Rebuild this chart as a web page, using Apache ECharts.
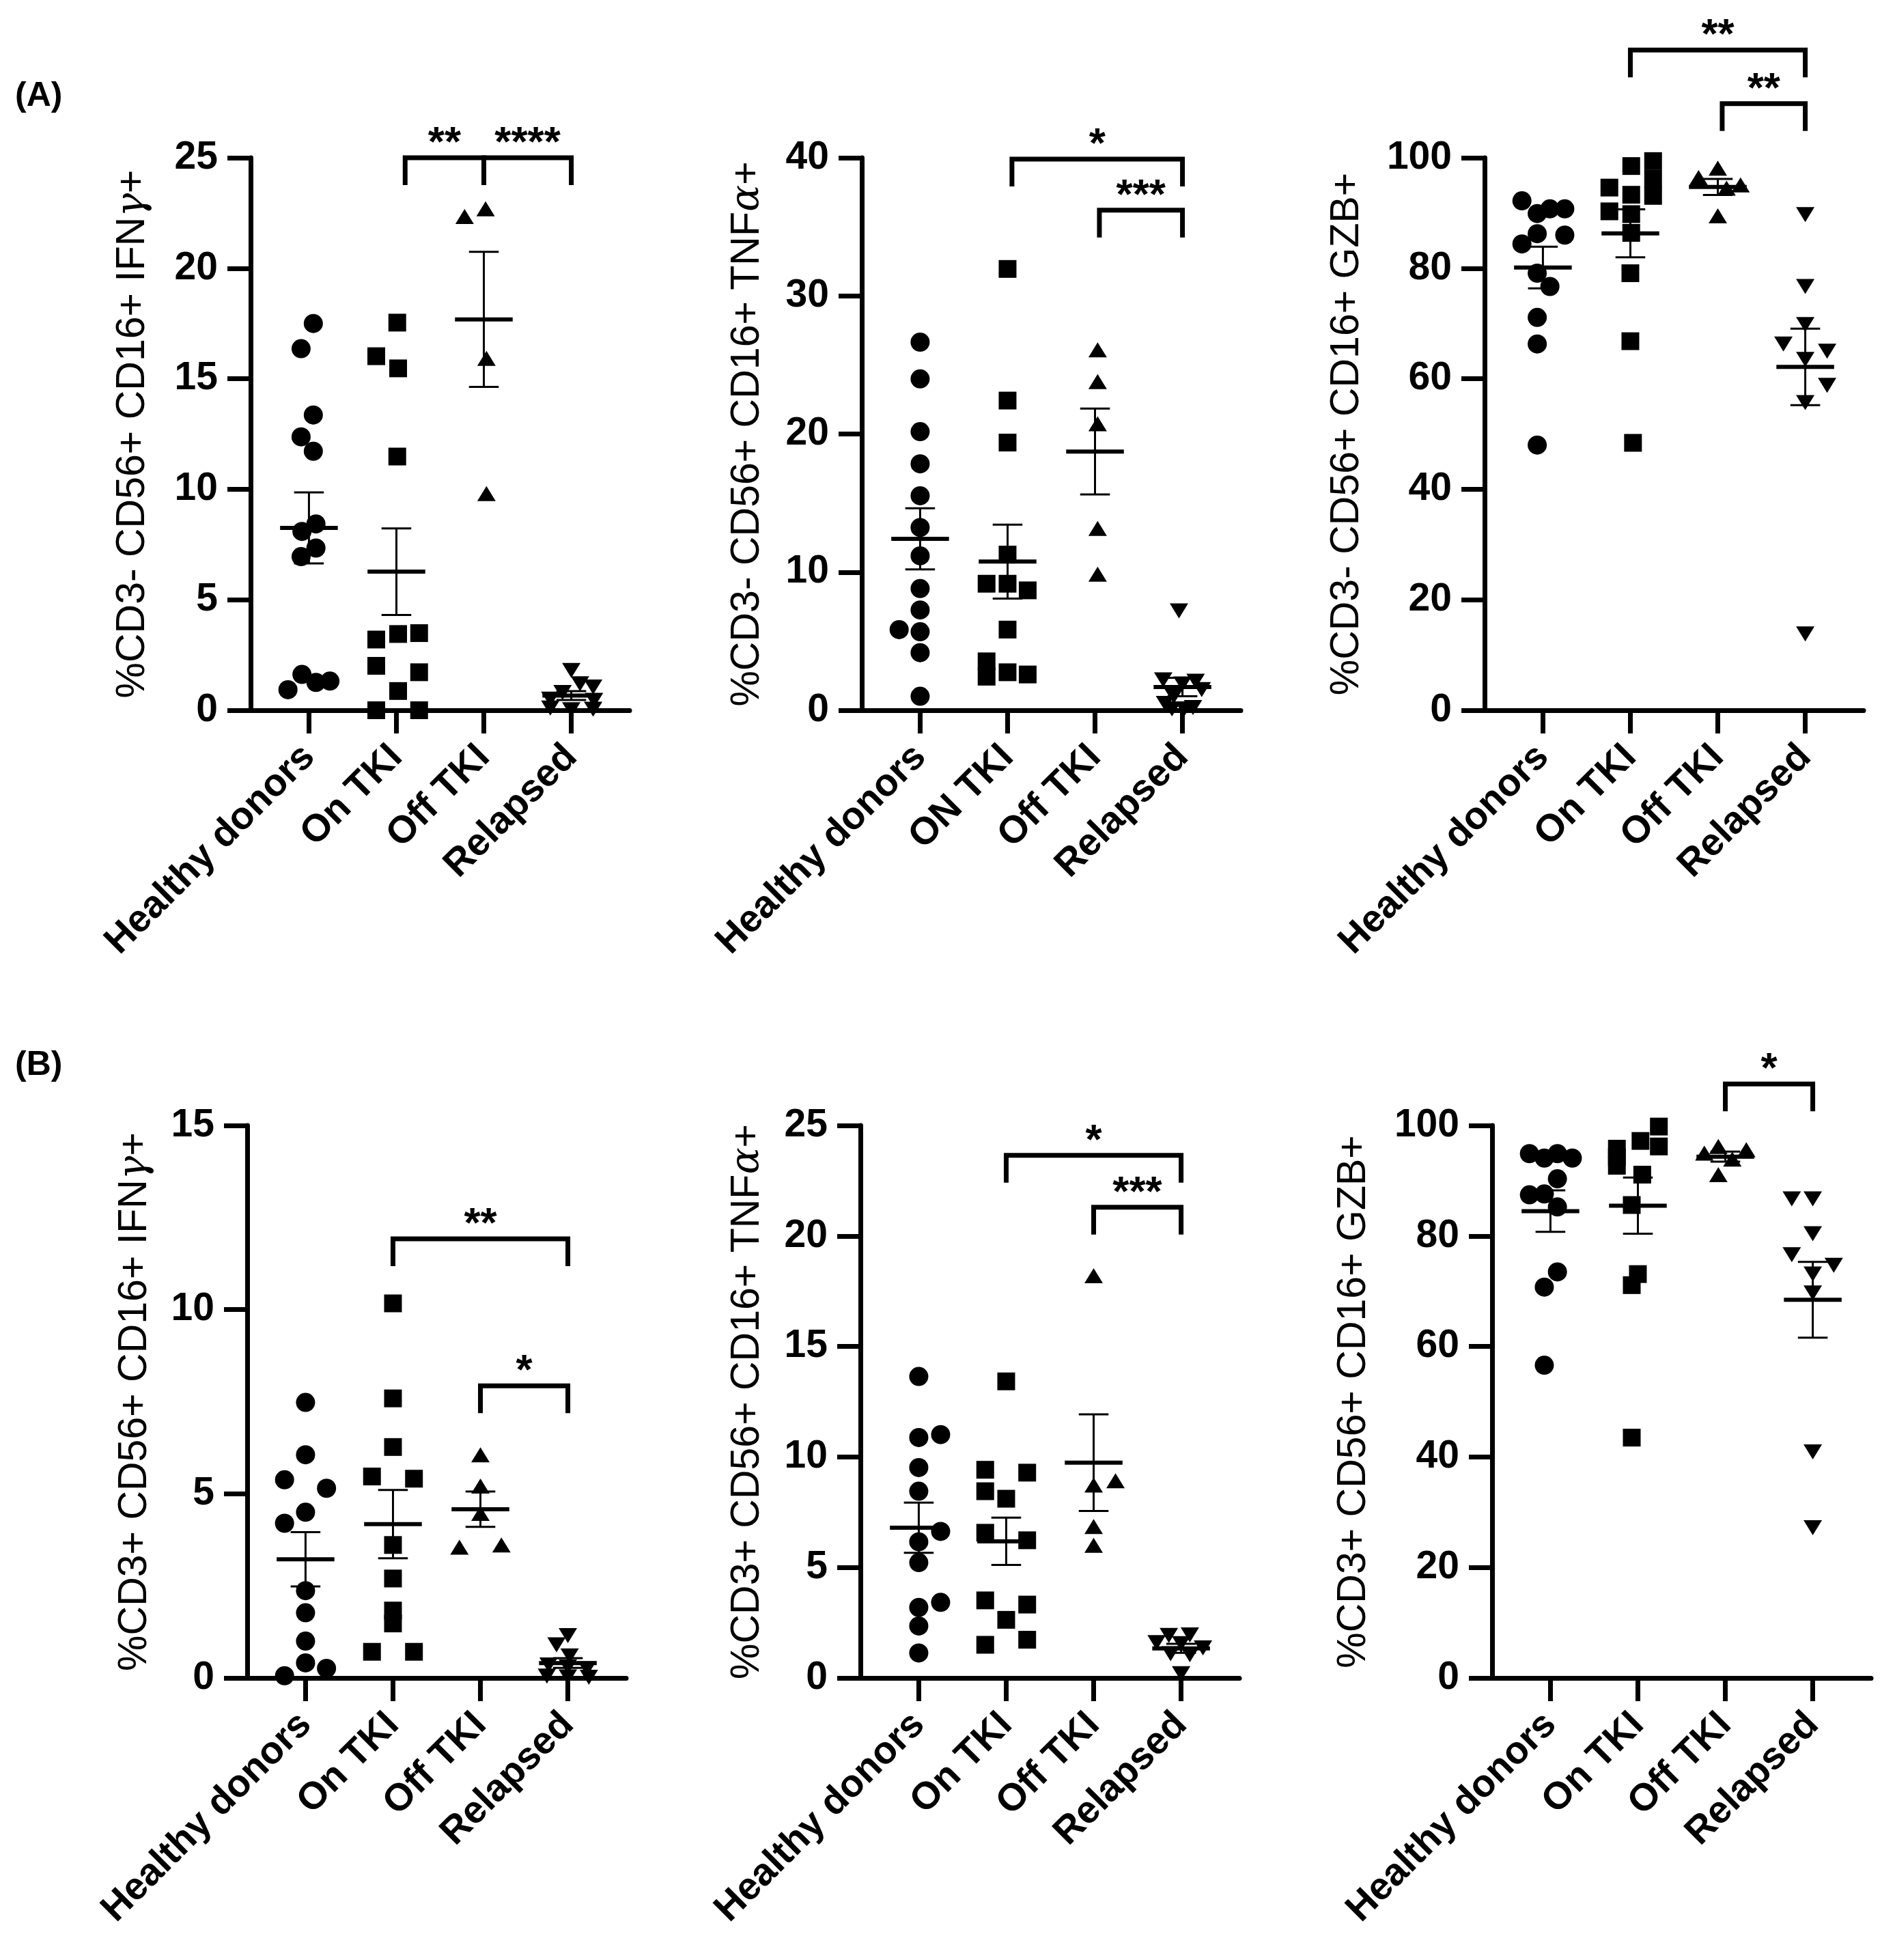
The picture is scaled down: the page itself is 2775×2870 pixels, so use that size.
<!DOCTYPE html>
<html>
<head>
<meta charset="utf-8">
<title>NK cell subsets</title>
<script src="https://cdn.jsdelivr.net/npm/echarts@6/dist/echarts.min.js"></script>
<style>
html, body { margin: 0; padding: 0; background: #fff; }
#chart { width: 2775px; height: 2870px; }
</style>
</head>
<body>
<div id="chart"></div>
<script>
var groups = ['Healthy donors', 'On TKI', 'Off TKI', 'Relapsed'];
var groupsON = ['Healthy donors', 'ON TKI', 'Off TKI', 'Relapsed'];

// (A) CD3- CD56+ CD16+ IFNg+
var a1Values = [
  [17.5, 16.36, 13.36, 12.37, 11.72, 8.43, 8.09, 7.34, 6.95, 0.93, 1.62, 1.26, 1.32],
  [17.54, 16.02, 15.47, 11.48, 3.2, 3.45, 3.49, 2.01, 1.72, 0.87, 0, 0],
  [22.34, 22.69, 15.92, 9.8],
  [1.8, 1.2, 1.05, 0.8, 0.5, 0.45, 0.1, 0.05, 0.02]
];
var a1Jitter = [
  [0.05, -0.09, 0.05, -0.09, 0.05, 0.08, -0.08, 0.08, -0.09, -0.24, -0.08, 0.08, 0.24],
  [0.01, -0.23, 0.02, 0.01, -0.23, 0.02, 0.26, -0.23, 0.26, 0.02, -0.23, 0.26],
  [-0.22, 0.02, 0.03, 0.03],
  [0, 0.1, 0.25, -0.1, -0.24, 0.26, -0.24, 0.25, 0]
];
var a1Brackets = [[2.1, 3, 25, '**'], [3, 4, 25, '****']];

// (A) CD3- CD56+ CD16+ TNFa+
var a2Values = [
  [26.65, 23.99, 20.17, 17.84, 15.53, 13.23, 11.18, 8.81, 7.26, 5.84, 5.68, 4.17, 1.01],
  [31.95, 22.42, 19.38, 11.27, 9.16, 9.16, 8.68, 5.84, 3.54, 2.43, 2.75, 2.59],
  [26.1, 23.8, 20.74, 13.17, 9.85],
  [7.2, 2.2, 2.1, 1.9, 1.5, 1.0, 0.5, 0.2, 0.1, 0.1]
];
var a2Jitter = [
  [0, 0, 0, 0, 0, 0, 0, 0, 0, -0.24, 0, 0, 0],
  [0, 0, 0, 0, -0.24, 0, 0.23, 0, -0.24, -0.24, 0, 0.23],
  [0.03, 0.03, 0.03, 0.03, 0.03],
  [-0.04, -0.22, 0.15, 0, 0.22, -0.1, -0.2, 0.12, 0.02, -0.12]
];
var a2Brackets = [[2.05, 4, 39.9, '*'], [3.05, 4, 36.2, '***']];

// (A) CD3- CD56+ CD16+ GZB+
var a3Values = [
  [92.2, 89.9, 90.75, 90.75, 86.26, 86.0, 84.4, 79.1, 76.7, 71.1, 66.3, 48.0],
  [98.5, 99.4, 94.6, 96.2, 93.3, 93.1, 90.3, 89.8, 86.4, 79.1, 66.8, 48.4],
  [98.1, 96.4, 95.1, 94.5, 89.5],
  [89.7, 76.7, 69.8, 66.3, 65.0, 63.5, 58.8, 55.7, 13.8]
];
var a3Jitter = [
  [-0.24, -0.065, 0.08, 0.25, -0.065, 0.25, -0.24, -0.065, 0.08, -0.065, -0.065, -0.065],
  [0.01, 0.26, -0.24, 0.26, 0.01, 0.26, -0.24, 0.01, 0.01, 0, 0, 0.03],
  [0, -0.22, 0.26, 0.1, 0],
  [0, 0, 0, -0.25, 0.25, 0, 0.25, 0, 0]
];
var a3Brackets = [[2, 4, 119.5, '**'], [3.05, 4, 109.8, '**']];

// (B) CD3+ CD56+ CD16+ IFNg+
var b1Values = [
  [7.48, 6.06, 5.38, 5.15, 4.5, 4.2, 2.37, 1.77, 1.0, 0.41, 0.26, 0.06],
  [10.17, 7.59, 6.27, 5.47, 5.41, 3.61, 2.7, 1.83, 1.48, 0.71, 0.71],
  [6.06, 5.21, 4.47, 3.55, 3.61],
  [1.15, 0.9, 0.6, 0.35, 0.3, 0.25, 0.05, 0.03, 0.02]
];
var b1Jitter = [
  [0, 0, -0.24, 0.24, 0, -0.24, 0, 0, 0, 0, 0.24, -0.24],
  [0, 0, 0, -0.24, 0.24, 0, 0, 0, 0, -0.24, 0.24],
  [0, 0, 0, -0.24, 0.24],
  [0, -0.13, 0.02, -0.22, 0, 0.22, -0.24, 0, 0.24]
];
var b1Brackets = [[2, 4, 11.92, '**'], [3, 4, 7.93, '*']];

// (B) CD3+ CD56+ CD16+ TNFa+
var b2Values = [
  [13.64, 10.88, 11.01, 9.52, 8.45, 6.63, 6.16, 5.22, 3.42, 3.19, 2.35, 1.13],
  [13.42, 9.42, 9.29, 8.45, 8.11, 6.57, 6.23, 3.51, 3.32, 2.63, 1.5, 1.73],
  [18.2, 8.92, 8.73, 6.85, 6.0],
  [1.95, 1.92, 1.6, 1.55, 1.36, 1.1, 1.05, 0.19]
];
var b2Jitter = [
  [0, 0, 0.25, 0, 0, 0.25, 0, 0, 0.25, 0, 0, 0],
  [0, -0.24, 0.24, -0.24, 0, -0.24, 0.24, -0.24, 0.24, 0, -0.24, 0.24],
  [0, 0.25, 0, 0, 0],
  [0.1, -0.14, -0.28, 0, 0.25, -0.12, 0.1, 0]
];
var b2Brackets = [[2, 4, 23.65, '*'], [3, 4, 21.3, '***']];

// (B) CD3+ CD56+ CD16+ GZB+
var b3Values = [
  [94.9, 94.1, 94.9, 94.1, 90.35, 87.45, 87.6, 85.25, 73.5, 70.75, 56.6],
  [99.8, 97.2, 96.2, 95.8, 94.3, 92.7, 91.1, 85.6, 73.1, 71.1, 43.5],
  [96.2, 95.0, 95.6, 93.9, 91.1],
  [86.7, 86.7, 80.4, 76.6, 74.7, 73.1, 69.7, 40.9, 27.2]
];
var b3Jitter = [
  [-0.24, -0.07, 0.08, 0.25, 0.08, -0.24, -0.07, 0.08, 0.08, -0.07, -0.07],
  [0.24, 0.03, 0.24, -0.24, -0.24, -0.24, 0.05, -0.07, 0, -0.07, -0.07],
  [-0.08, -0.24, 0.24, 0.08, -0.08],
  [-0.24, 0, 0, -0.24, 0.24, 0, 0, 0, 0]
];
var b3Brackets = [[3, 4, 107.5, '*']];

var FONT = '"Liberation Sans", Arial, Helvetica, sans-serif';

var panels = [
  {values: a1Values, jitter: a1Jitter, brackets: a1Brackets, cats: groups, max: 25, interval: 5,
   name: '%CD3- CD56+ CD16+ IFN{g|γ}+', left: 367, top: 231, nameGap: 143},
  {values: a2Values, jitter: a2Jitter, brackets: a2Brackets, cats: groupsON, max: 40, interval: 10,
   name: '%CD3- CD56+ CD16+ TNF{g|α}+', left: 1262, top: 231, nameGap: 138},
  {values: a3Values, jitter: a3Jitter, brackets: a3Brackets, cats: groups, max: 100, interval: 20,
   name: '%CD3- CD56+ CD16+ GZB+', left: 2174, top: 231, nameGap: 172},
  {values: b1Values, jitter: b1Jitter, brackets: b1Brackets, cats: groups, max: 15, interval: 5,
   name: '%CD3+ CD56+ CD16+ IFN{g|γ}+', left: 362, top: 1648, nameGap: 135},
  {values: b2Values, jitter: b2Jitter, brackets: b2Brackets, cats: groups, max: 25, interval: 5,
   name: '%CD3+ CD56+ CD16+ TNF{g|α}+', left: 1260, top: 1648, nameGap: 136},
  {values: b3Values, jitter: b3Jitter, brackets: b3Brackets, cats: groups, max: 100, interval: 20,
   name: '%CD3+ CD56+ CD16+ GZB+', left: 2185, top: 1648, nameGap: 173}
];

var symbols = [
  {symbol: 'circle', size: 28, rotate: 0},
  {symbol: 'rect', size: 26, rotate: 0},
  {symbol: 'triangle', size: [27, 22], rotate: 0},
  {symbol: 'triangle', size: [27, 22], rotate: 180}
];

function meanSem(arr) {
  var n = arr.length, s = 0, v = 0;
  arr.forEach(function (x) { s += x; });
  var m = s / n;
  arr.forEach(function (x) { v += (x - m) * (x - m); });
  return [m, Math.sqrt(v / (n - 1) / n)];
}

function renderMean(params, api) {
  var x = api.value(0), lo = api.value(2), hi = api.value(3);
  var c = api.coord([x, api.value(1)]);
  var pLo = api.coord([x, lo]), pHi = api.coord([x, hi]);
  var unit = api.size([1, 0])[0];
  var hw = unit * 0.33, cw = unit * 0.17;
  var line = {stroke: '#000', lineWidth: 3};
  return {
    type: 'group',
    children: [
      {type: 'line', shape: {x1: c[0], y1: pLo[1], x2: c[0], y2: pHi[1]}, style: line},
      {type: 'line', shape: {x1: c[0] - cw, y1: pLo[1], x2: c[0] + cw, y2: pLo[1]}, style: line},
      {type: 'line', shape: {x1: c[0] - cw, y1: pHi[1], x2: c[0] + cw, y2: pHi[1]}, style: line},
      {type: 'line', shape: {x1: c[0] - hw, y1: c[1], x2: c[0] + hw, y2: c[1]},
       style: {stroke: '#000', lineWidth: 6}}
    ]
  };
}

function bracketRenderer(list) {
  return function (params, api) {
    var b = list[params.dataIndex];
    var p1 = api.coord([b[0], b[2]]), p2 = api.coord([b[1], b[2]]);
    var drop = 40;
    return {
      type: 'group',
      children: [
        {type: 'polyline',
         shape: {points: [[p1[0], p1[1] + drop], [p1[0], p1[1]], [p2[0], p2[1]], [p2[0], p2[1] + drop]]},
         style: {stroke: '#000', lineWidth: 7, fill: 'none', lineJoin: 'miter'}},
        {type: 'text',
         style: {text: b[3], x: (p1[0] + p2[0]) / 2, y: p1[1] - 20, align: 'center', verticalAlign: 'middle',
                 fontSize: 62, fontWeight: 'bold', fontFamily: FONT, fill: '#000'}}
      ]
    };
  };
}

var grids = [], xAxes = [], yAxes = [], series = [];

panels.forEach(function (p, i) {
  grids.push({left: p.left, top: p.top, width: 555, height: 809, containLabel: false});
  xAxes.push({
    gridIndex: i, type: 'value', min: 1 - 0.667, max: 4 + 0.667,
    axisLine: {show: true, onZero: true, lineStyle: {color: '#000', width: 7}},
    axisTick: {show: true, customValues: [1, 2, 3, 4], length: 34, lineStyle: {color: '#000', width: 7}},
    axisLabel: {
      customValues: [1, 2, 3, 4], rotate: 45, margin: 60,
      fontSize: 56, fontWeight: 'bold', fontFamily: FONT, color: '#000',
      formatter: (function (cats) { return function (v) { return cats[Math.round(v) - 1]; }; })(p.cats)
    },
    splitLine: {show: false}
  });
  yAxes.push({
    gridIndex: i, type: 'value', min: 0, max: p.max, interval: p.interval,
    name: p.name, nameLocation: 'middle', nameGap: p.nameGap,
    nameTextStyle: {
      fontSize: 59, fontFamily: FONT, color: '#000',
      rich: {g: {fontSize: 58, fontFamily: '"DejaVu Serif", serif', fontStyle: 'italic', color: '#000'}}
    },
    axisLine: {show: true, lineStyle: {color: '#000', width: 7}},
    axisTick: {show: true, length: 34, lineStyle: {color: '#000', width: 7}},
    axisLabel: {margin: 48, fontSize: 57, fontWeight: 'bold', fontFamily: FONT, color: '#000'},
    splitLine: {show: false}
  });

  var stats = [];
  p.values.forEach(function (vals, g) {
    var sym = symbols[g];
    series.push({
      type: 'scatter', xAxisIndex: i, yAxisIndex: i,
      symbol: sym.symbol, symbolSize: sym.size, symbolRotate: sym.rotate,
      itemStyle: {color: '#000', opacity: 1},
      data: vals.map(function (v, k) { return [g + 1 + p.jitter[g][k], v]; }),
      z: 2
    });
    var ms = meanSem(vals);
    stats.push([g + 1, ms[0], ms[0] - ms[1], ms[0] + ms[1]]);
  });

  series.push({
    type: 'custom', xAxisIndex: i, yAxisIndex: i,
    renderItem: renderMean, data: stats, z: 3, silent: true
  });
  series.push({
    type: 'custom', xAxisIndex: i, yAxisIndex: i, clip: false,
    renderItem: bracketRenderer(p.brackets),
    data: p.brackets.map(function (b) { return [b[0], b[2]]; }), z: 3, silent: true
  });
});

var myChart = echarts.init(document.getElementById('chart'));
var option = {
  backgroundColor: '#fff',
  animation: false,
  grid: grids,
  xAxis: xAxes,
  yAxis: yAxes,
  series: series,
  graphic: [
    {type: 'text', left: 22, top: 116, style: {text: '(A)', fontSize: 50, fontWeight: 'bold', fontFamily: FONT, fill: '#000'}},
    {type: 'text', left: 22, top: 1535, style: {text: '(B)', fontSize: 50, fontWeight: 'bold', fontFamily: FONT, fill: '#000'}}
  ]
};
myChart.setOption(option);
</script>
</body>
</html>
